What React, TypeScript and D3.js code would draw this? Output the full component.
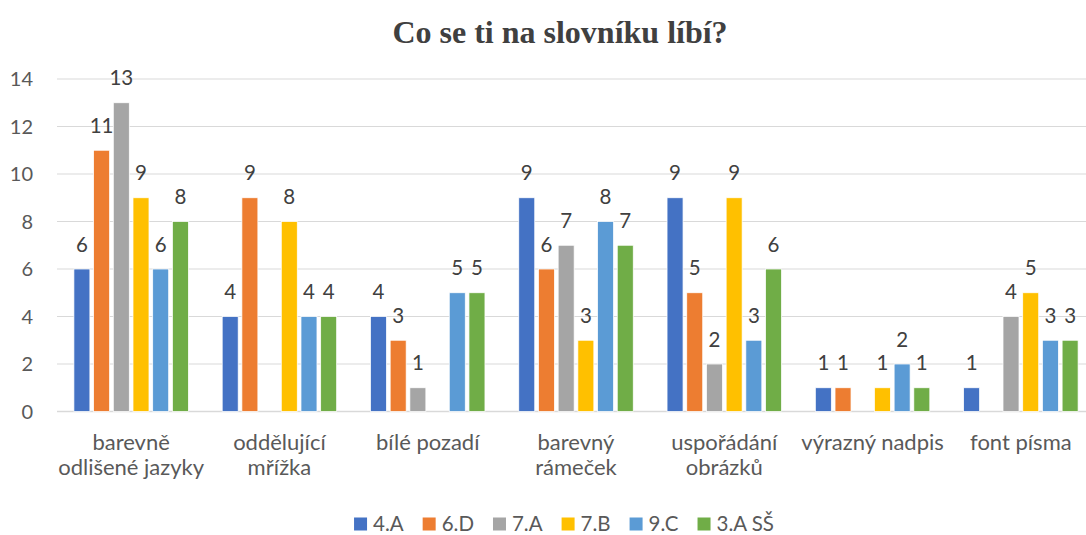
import React, { useEffect, useRef } from "react";
import * as d3 from "d3";

const categories: string[][] = [
  ["barevně", "odlišené jazyky"],
  ["oddělující", "mřížka"],
  ["bílé pozadí"],
  ["barevný", "rámeček"],
  ["uspořádání", "obrázků"],
  ["výrazný nadpis"],
  ["font písma"],
];
const seriesNames = ["4.A", "6.D", "7.A", "7.B", "9.C", "3.A SŠ"];
const seriesColors = ["#4472C4", "#ED7D31", "#A5A5A5", "#FFC000", "#5B9BD5", "#70AD47"];
const s4A = [6, 4, 4, 9, 9, 1, 1];
const s6D = [11, 9, 3, 6, 5, 1, 0];
const s7A = [13, 0, 1, 7, 2, 0, 4];
const s7B = [9, 8, 0, 3, 9, 1, 5];
const s9C = [6, 4, 5, 8, 3, 2, 3];
const s3ASS = [8, 4, 5, 7, 6, 1, 3];
const seriesValues = [s4A, s6D, s7A, s7B, s9C, s3ASS];
const yTicks = [0, 2, 4, 6, 8, 10, 12, 14];
const title = "Co se ti na slovníku líbí?";

const W = 1086;
const H = 535;
const FONT = "Lato, 'Open Sans', sans-serif";

export default function App() {
  const ref = useRef<SVGSVGElement>(null);
  useEffect(() => {
    const svg = d3.select(ref.current);
    svg.selectAll("*").remove();

    const left = 57, right = 1095, top = 79, bottom = 411.5;
    const x0 = d3.scaleBand<number>().domain(d3.range(categories.length)).range([left, right]).padding(0);
    const x1 = d3
      .scaleBand<number>()
      .domain(d3.range(seriesNames.length))
      .range([0, x0.bandwidth()])
      .paddingInner(0.188)
      .paddingOuter(0.858);
    const y = d3.scaleLinear().domain([0, 14]).range([bottom, top]);

    // title
    svg
      .append("text")
      .attr("x", 560)
      .attr("y", 43)
      .attr("text-anchor", "middle")
      .attr("font-family", "'Liberation Serif', 'Times New Roman', serif")
      .attr("font-weight", "bold")
      .attr("font-size", 32)
      .attr("fill", "#404040")
      .text(title);

    // gridlines
    svg
      .append("g")
      .selectAll("line")
      .data(yTicks)
      .join("line")
      .attr("x1", left)
      .attr("x2", W)
      .attr("y1", (d) => y(d))
      .attr("y2", (d) => y(d))
      .attr("stroke", "#D9D9D9")
      .attr("stroke-width", (d) => (d === 0 ? 1.5 : 1.2));

    // y tick labels
    svg
      .append("g")
      .selectAll("text")
      .data(yTicks)
      .join("text")
      .attr("x", 33)
      .attr("y", (d) => y(d))
      .attr("dy", "0.36em")
      .attr("text-anchor", "end")
      .attr("font-family", FONT)
      .attr("font-size", 20)
      .attr("fill", "#595959")
      .text((d) => d);

    // bars
    const g = svg.append("g");
    seriesValues.forEach((vals, si) => {
      const bw = 16;
      const off = (x1.bandwidth() - bw) / 2;
      g.append("g")
        .selectAll("rect")
        .data(vals.map((v, ci) => ({ v, ci })).filter((d) => d.v > 0))
        .join("rect")
        .attr("x", (d) => x0(d.ci)! + x1(si)! + off)
        .attr("y", (d) => y(d.v))
        .attr("width", bw)
        .attr("height", (d) => y(0) - y(d.v))
        .attr("fill", seriesColors[si])
        .attr("stroke", "#fff")
        .attr("stroke-width", 0.75);
      g.append("g")
        .selectAll("text")
        .data(vals.map((v, ci) => ({ v, ci })).filter((d) => d.v > 0))
        .join("text")
        .attr("x", (d) => x0(d.ci)! + x1(si)! + x1.bandwidth() / 2)
        .attr("y", (d) => y(d.v) - 17.5)
        .attr("text-anchor", "middle")
        .attr("font-family", FONT)
        .attr("font-size", 20.5)
        .attr("fill", "#404040")
        .text((d) => d.v);
    });

    // category labels
    const cg = svg.append("g");
    categories.forEach((lines, ci) => {
      const t = cg
        .append("text")
        .attr("x", x0(ci)! + x0.bandwidth() / 2)
        .attr("y", 450)
        .attr("text-anchor", "middle")
        .attr("font-family", FONT)
        .attr("font-size", 22)
        .attr("fill", "#595959");
      lines.forEach((ln, li) => {
        t.append("tspan")
          .attr("x", x0(ci)! + x0.bandwidth() / 2)
          .attr("y", 450 + li * 25)
          .text(ln);
      });
    });

    // legend
    const lg = svg.append("g");
    const sq = 13, gapT = 6, gapItem = 19;
    const items: { w: number }[] = [];
    seriesNames.forEach((name, i) => {
      const it = lg.append("g");
      it.append("rect").attr("x", 0).attr("y", -13.5).attr("width", sq).attr("height", sq).attr("fill", seriesColors[i]);
      const tx = it
        .append("text")
        .attr("x", sq + gapT)
        .attr("y", 0)
        .attr("font-family", FONT)
        .attr("font-size", 20.5)
        .attr("fill", "#595959")
        .text(name);
      const tw = (tx.node() as SVGTextElement).getComputedTextLength();
      items.push({ w: sq + gapT + tw });
    });
    const total = d3.sum(items, (d) => d.w) + gapItem * (items.length - 1);
    let cx = 564 - total / 2;
    lg.selectAll<SVGGElement, unknown>("g").each(function (_, i) {
      d3.select(this).attr("transform", `translate(${cx},531)`);
      cx += items[i].w + gapItem;
    });
  }, []);

  return (
    <svg
      ref={ref}
      width={W}
      height={H}
      style={{ position: "absolute", left: 0, top: 0, background: "#fff" }}
    />
  );
}
